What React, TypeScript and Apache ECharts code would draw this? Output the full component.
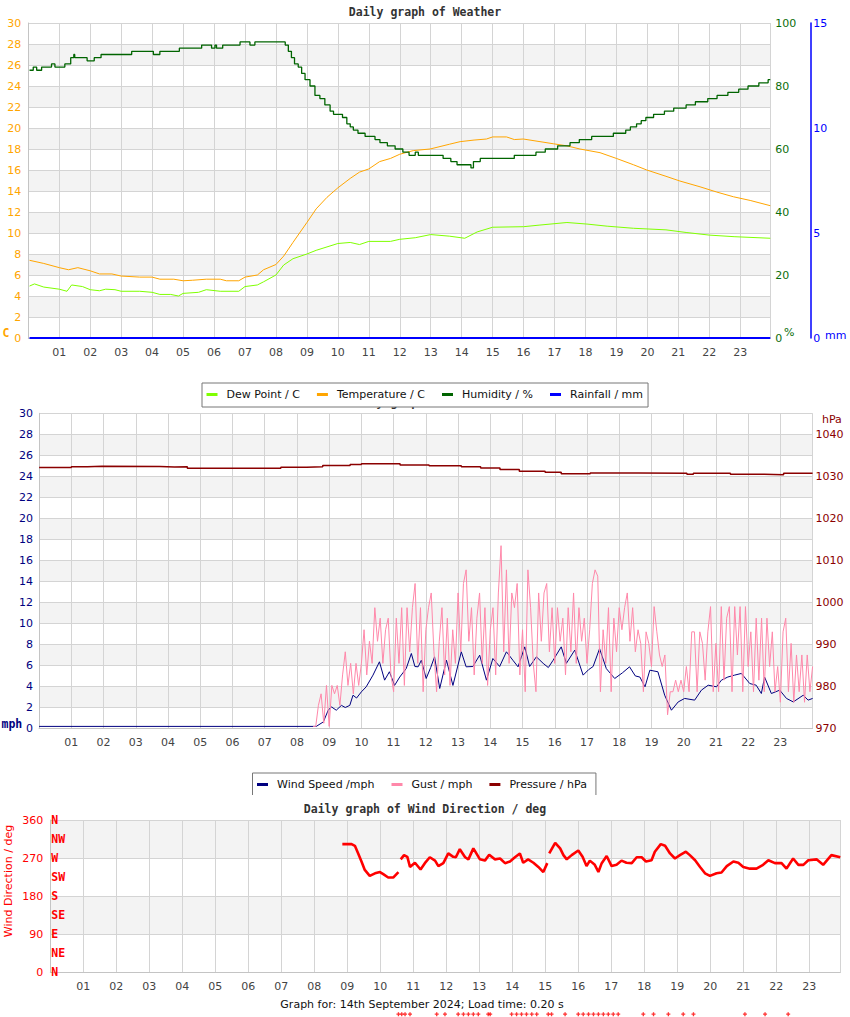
import React, { useEffect, useRef } from 'react';
import * as echarts from 'echarts';

const SANS = '"DejaVu Sans", Verdana, sans-serif';
const MONO = '"DejaVu Sans Mono", monospace';

const TITLES = ['Daily graph of Weather', 'Daily graph of Weather', 'Daily graph of Wind Direction / deg'];
const COMPASS_LABELS = ['N', 'NE', 'E', 'SE', 'S', 'SW', 'W', 'NW', 'N'];
const LEGEND_WEATHER = ['Dew Point / C', 'Temperature / C', 'Humidity / %', 'Rainfall / mm'];
const LEGEND_WIND = ['Wind Speed /mph', 'Gust / mph', 'Pressure / hPa'];
const FOOTER = 'Graph for: 14th September 2024; Load time: 0.20 s';

// [hour, °C]
const temperature: [number, number][] = [
  [0.04, 7.4], [0.5, 7.1], [1.0, 6.7], [1.3, 6.5], [1.6, 6.7], [2.0, 6.4], [2.3, 6.1], [2.7, 6.1], [3.0, 5.9],
  [3.6, 5.8], [4.0, 5.8], [4.25, 5.6], [4.7, 5.6], [5.0, 5.45], [5.3, 5.5], [5.75, 5.6], [6.2, 5.6], [6.4, 5.45],
  [6.8, 5.45], [7.0, 5.8], [7.4, 6.0], [7.6, 6.5], [8.0, 7.0], [8.25, 7.8], [8.55, 9.1], [9.0, 11.0], [9.3, 12.3],
  [9.65, 13.4], [10.0, 14.3], [10.4, 15.2], [10.7, 15.8], [11.0, 16.1], [11.35, 16.8], [11.7, 17.1], [12.0, 17.5],
  [12.44, 17.85], [12.98, 18.0], [13.6, 18.45], [13.95, 18.7], [14.4, 18.85], [14.8, 18.95], [15.0, 19.15],
  [15.45, 19.15], [15.7, 18.9], [15.99, 18.95], [16.53, 18.7], [16.96, 18.5], [17.4, 18.3], [17.82, 18.0],
  [18.47, 17.65], [19.0, 17.1], [19.55, 16.5], [19.98, 16.0], [20.6, 15.4], [21.05, 14.95], [21.7, 14.4],
  [22.24, 13.9], [22.78, 13.45], [23.32, 13.1], [23.97, 12.6],
];

// [hour, °C]
const dewPoint: [number, number][] = [
  [0.04, 4.95], [0.2, 5.15], [0.5, 4.85], [1.0, 4.65], [1.25, 4.45], [1.4, 5.05], [1.75, 4.9], [2.0, 4.6],
  [2.3, 4.5], [2.5, 4.65], [2.8, 4.6], [3.0, 4.45], [3.6, 4.45], [4.0, 4.35], [4.25, 4.15], [4.6, 4.15],
  [4.85, 4.0], [5.0, 4.25], [5.5, 4.35], [5.75, 4.6], [6.2, 4.45], [6.8, 4.45], [7.0, 4.9], [7.4, 5.05],
  [7.6, 5.35], [8.0, 6.0], [8.25, 6.95], [8.55, 7.55], [9.0, 8.0], [9.3, 8.35], [10.0, 9.0], [10.4, 9.1],
  [10.7, 8.9], [11.0, 9.2], [11.7, 9.2], [12.0, 9.4], [12.5, 9.55], [13.0, 9.85], [13.6, 9.7], [14.1, 9.5],
  [14.5, 10.1], [15.0, 10.55], [16.0, 10.6], [16.5, 10.75], [17.4, 11.0], [18.05, 10.85], [18.7, 10.65],
  [19.55, 10.45], [20.6, 10.3], [21.25, 10.05], [22.0, 9.8], [22.8, 9.65], [23.97, 9.5],
];

// [hour, %]
const humidity: [number, number][] = [
  [0.04, 85], [0.16, 86], [0.27, 85], [0.43, 86], [0.75, 87], [0.86, 86], [1.18, 87], [1.37, 89], [1.47, 90],
  [1.5, 89], [1.9, 88], [2.13, 89], [2.35, 90], [3.34, 91], [4.04, 90], [4.25, 91], [4.88, 92], [5.6, 93],
  [5.92, 92], [6.03, 93], [6.08, 92], [6.28, 93], [6.84, 94], [7.16, 93], [7.32, 94], [8.3, 93], [8.4, 91],
  [8.5, 89], [8.6, 87], [8.72, 86], [8.83, 84], [8.94, 82], [9.1, 80], [9.26, 77], [9.42, 76], [9.58, 74],
  [9.75, 72], [9.86, 71], [10.15, 70], [10.29, 68], [10.4, 67], [10.5, 66], [10.65, 65], [10.88, 64], [11.2, 63],
  [11.36, 62], [11.6, 61], [11.85, 60], [12.1, 59], [12.3, 58], [12.5, 59], [12.6, 58], [13.4, 57], [13.65, 56],
  [13.85, 55], [14.3, 54], [14.38, 56], [14.6, 57], [15.7, 58], [16.4, 59], [16.7, 60], [17.1, 61], [17.5, 62],
  [17.8, 63], [18.2, 64], [18.9, 65], [19.3, 66], [19.45, 67], [19.65, 68], [19.8, 69], [19.95, 70], [20.2, 71],
  [20.55, 72], [20.85, 73], [21.25, 74], [21.55, 75], [21.95, 76], [22.25, 77], [22.6, 78], [22.95, 79],
  [23.25, 80], [23.6, 81], [23.9, 82], [23.97, 82],
];

// [hour, mm]
const rainfall: [number, number][] = [[0.04, 0], [23.97, 0]];

// [hour, mph]
const windSpeed: [number, number][] = [
  [0, 0.2], [8.6, 0.2], [8.82, 0.63], [8.97, 1.74], [9.07, 2.06], [9.22, 1.74], [9.38, 2.2], [9.5, 2.0],
  [9.64, 2.2], [9.74, 3.17], [9.85, 2.9], [10.0, 3.49], [10.15, 3.97], [10.36, 5.08], [10.56, 6.35],
  [10.72, 4.6], [10.87, 5.4], [11.03, 4.1], [11.19, 4.9], [11.39, 5.7], [11.55, 7.14], [11.66, 5.9],
  [11.76, 5.87], [11.86, 6.5], [12.01, 4.76], [12.15, 5.8], [12.27, 6.82], [12.43, 3.81], [12.64, 6.5],
  [12.84, 4.1], [13.1, 7.3], [13.25, 5.87], [13.46, 5.9], [13.67, 6.98], [13.88, 4.6], [14.08, 6.66],
  [14.29, 5.9], [14.5, 7.3], [14.7, 6.5], [14.86, 5.87], [15.07, 7.77], [15.22, 5.9], [15.43, 6.82],
  [15.64, 6.2], [15.8, 5.8], [15.95, 6.5], [16.2, 7.77], [16.36, 6.2], [16.62, 7.46], [16.88, 5.08],
  [17.05, 5.6], [17.19, 5.9], [17.39, 7.6], [17.6, 5.7], [17.86, 4.76], [18.1, 5.3], [18.32, 5.87],
  [18.5, 5.0], [18.64, 4.9], [18.8, 3.97], [18.95, 5.55], [19.2, 5.4], [19.41, 3.17], [19.62, 1.74],
  [19.83, 2.53], [20.03, 2.86], [20.34, 2.7], [20.55, 3.65], [20.76, 4.12], [21.02, 3.97], [21.17, 4.6],
  [21.37, 4.9], [21.58, 5.08], [21.79, 5.24], [22.05, 4.28], [22.25, 4.12], [22.41, 3.33], [22.51, 4.9],
  [22.72, 3.33], [22.98, 3.65], [23.19, 2.86], [23.4, 2.53], [23.71, 3.17], [23.86, 2.7], [24.0, 2.86],
];

// gust readings every 5 minutes from 08:30
const gustStartHour = 8.5;
const gustStepMinutes = 5;
const gust: number[] = [
  0.2, 0.2, 2.2, 3.3, 0.5, 4.1,
  0.2, 4.1, 3.3, 4.1, 2.2, 5.1, 7.3, 4.1, 6.2, 3.3, 6.2, 4.1,
  6.2, 9.4, 5.1, 8.3, 6.2, 11.5, 8.3, 10.5, 6.2, 9.4, 10.5, 5.1,
  3.5, 10.5, 6.2, 11.5, 4.1, 11.5, 7.3, 11.5, 13.8, 6.2, 11.5, 3.5,
  9.4, 11.5, 12.9, 7.3, 3.5, 8.3, 11.5, 5.1, 10.5, 4.1, 9.4, 6.2,
  12.9, 7.3, 13.8, 15.1, 8.3, 11.5, 5.1, 10.5, 12.9, 6.2, 11.5, 4.1,
  9.4, 11.5, 5.1, 12.9, 17.4, 7.3, 15.1, 6.2, 12.9, 11.5, 13.8, 5.1,
  9.4, 3.5, 15.1, 11.5, 6.2, 3.5, 12.9, 8.3, 12.9, 13.8, 7.3, 11.5,
  6.2, 11.5, 8.3, 10.5, 5.1, 11.5, 7.3, 12.9, 6.2, 11.5, 8.3, 10.5,
  6.2, 9.4, 13.8, 15.1, 14.5, 3.5, 9.4, 6.2, 11.5, 3.5, 10.5, 7.3,
  11.5, 9.4, 11.5, 12.9, 8.3, 11.5, 7.3, 9.4, 8.1, 3.5, 9.2, 8.1,
  5.9, 11.6, 9.2, 7.0, 5.9, 7.0, 1.3, 3.5, 3.5, 4.6, 3.5, 4.6,
  3.5, 5.9, 3.5, 9.2, 9.2, 3.5, 9.2, 8.1, 4.6, 9.2, 11.6, 3.5,
  8.1, 3.5, 11.6, 4.6, 10.5, 11.6, 3.5, 11.6, 7.0, 11.6, 3.5, 11.6,
  5.9, 9.2, 3.5, 10.5, 4.6, 10.5, 3.5, 10.5, 5.9, 9.2, 3.5, 5.9,
  2.5, 9.2, 10.5, 3.5, 8.1, 2.5, 7.0, 3.5, 7.0, 2.5, 7.0, 3.5,
  5.9,
];

// [hour, hPa]
const pressure: [number, number][] = [
  [0, 1032.1], [1.0, 1032.3], [1.5, 1032.4], [1.95, 1032.35], [3.75, 1032.2], [4.2, 1032.3], [4.6, 1031.95],
  [7.5, 1032.15], [8.3, 1032.3], [8.8, 1032.55], [9.65, 1032.8], [10.0, 1033.0], [11.2, 1032.7], [12.1, 1032.5],
  [13.1, 1032.3], [13.7, 1032.0], [14.3, 1031.6], [14.9, 1031.2], [15.7, 1031.0], [16.2, 1030.6], [17.1, 1030.8],
  [18.6, 1030.75], [20.1, 1030.5], [20.3, 1030.75], [21.45, 1030.5], [22.5, 1030.35], [23.1, 1030.75], [24.0, 1030.75],
];

// [hour, deg]
const windDirection: [number, number | null][] = [
  [8.85, 303], [9.13, 303], [9.23, 299], [9.33, 281], [9.43, 262], [9.53, 242], [9.68, 228], [9.84, 234],
  [9.99, 237], [10.09, 232], [10.24, 224], [10.39, 224], [10.55, 237], [10.58, null], [10.62, 267], [10.72, 277],
  [10.82, 273], [10.9, 249], [11.05, 259], [11.22, 243], [11.35, 258], [11.5, 272], [11.66, 264], [11.76, 251],
  [11.91, 258], [12.06, 281], [12.21, 273], [12.29, 272], [12.41, 291], [12.57, 272], [12.67, 267], [12.82, 293],
  [13.02, 267], [13.17, 264], [13.3, 278], [13.47, 267], [13.63, 269], [13.78, 258], [13.93, 262], [14.08, 272],
  [14.23, 281], [14.33, 259], [14.48, 267], [14.64, 259], [14.79, 249], [14.94, 237], [15.06, 258], [15.09, null],
  [15.12, 281], [15.3, 306], [15.45, 293], [15.55, 277], [15.65, 267], [15.8, 277], [16.0, 288], [16.13, 273],
  [16.25, 251], [16.35, 264], [16.5, 254], [16.61, 237], [16.71, 258], [16.86, 275], [17.01, 251], [17.16, 254],
  [17.31, 264], [17.46, 259], [17.62, 258], [17.77, 272], [17.92, 272], [18.05, 262], [18.22, 265], [18.32, 285],
  [18.5, 303], [18.63, 299], [18.78, 281], [18.93, 269], [19.08, 277], [19.26, 285], [19.38, 277], [19.54, 265],
  [19.69, 249], [19.84, 234], [19.99, 228], [20.19, 234], [20.34, 236], [20.5, 251], [20.7, 262], [20.85, 259],
  [21.0, 249], [21.2, 245], [21.4, 245], [21.6, 254], [21.76, 265], [21.96, 258], [22.16, 258], [22.31, 245],
  [22.51, 269], [22.67, 254], [22.82, 254], [22.97, 265], [23.22, 267], [23.42, 254], [23.67, 277], [23.94, 272],
];

// readings drawn below the direction scale
const offScaleDirection: [number, number][] = [
  [10.55, -99], [10.65, -99], [10.75, -99], [10.9, -99], [11.71, -99], [11.96, -99], [12.36, -99], [12.52, -99],
  [12.67, -99], [12.82, -99], [12.97, -99], [13.27, -99], [13.33, -99], [13.98, -99], [14.13, -99], [14.28, -99],
  [14.43, -99], [14.59, -99], [14.74, -99], [15.09, -99], [15.19, -99], [15.6, -99], [16.0, -99], [16.15, -99],
  [16.31, -99], [16.46, -99], [16.61, -99], [16.76, -99], [16.91, -99], [17.06, -99], [17.21, -99], [17.97, -99],
  [18.28, -99], [18.73, -99], [19.18, -99], [19.49, -99], [21.05, -99], [21.66, -99], [22.36, -99],
];

const GRID_LINE = '#d4d4d4';
const BANDS = ['#ffffff', '#f3f3f3'];
const AXIS_LINE = '#c4c4c4';

const hourLabel = (v: number) =>
  Number.isInteger(v) && v > 0 && v < 24 ? String(v).padStart(2, '0') : '';
const hpaLabel = (v: number) => (v % 10 === 0 && v <= 1040 ? String(v) : '');

function xAxis(gridIndex: number, max: number, margin: number) {
  return {
    type: 'value', gridIndex, min: 0, max, interval: 1,
    axisLine: { show: true, onZero: false, lineStyle: { color: AXIS_LINE } },
    axisTick: { show: false },
    axisLabel: { formatter: hourLabel, color: '#444', fontSize: 11, fontFamily: SANS, margin },
    splitLine: { show: true, lineStyle: { color: GRID_LINE } },
  };
}

function txt(text: string, x: number, y: number, fill: string, font: string, align = 'left', extra: any = {}) {
  return {
    type: 'text', x, y, z: 50, ...extra,
    style: { text, fill, font, textAlign: align, textVerticalAlign: 'middle', align, verticalAlign: 'middle' },
  };
}

function buildOption(): any {
  const titleStyle = { fontFamily: MONO, fontWeight: 'bold', fontSize: 11.5, color: '#333' };
  const legendBase = {
    orient: 'horizontal', itemGap: 17, itemWidth: 11, itemHeight: 3, icon: 'rect',
    borderColor: '#777', borderWidth: 1, backgroundColor: '#fff', selectedMode: false, z: 20,
    textStyle: { fontSize: 11, fontFamily: SANS, color: '#111', padding: [0, 0, 0, 4] },
  };
  const gustData = gust.map((v, i) => [gustStartHour + (i * gustStepMinutes) / 60, v]);
  return {
    animation: false,
    backgroundColor: '#fff',
    title: [
      { text: TITLES[0], left: 'center', top: 6, padding: 0, textStyle: titleStyle, z: 1 },
      { text: TITLES[1], left: 'center', top: 396, padding: 0, textStyle: titleStyle, z: 1 },
      { text: TITLES[2], left: 'center', top: 803, padding: 0, textStyle: titleStyle, z: 1 },
    ],
    legend: [
      { ...legendBase, data: LEGEND_WEATHER, left: 202, top: 383, padding: [6, 5, 7, 4.5] },
      { ...legendBase, data: LEGEND_WIND, left: 252.5, top: 773, padding: [6, 9, 7, 4.5] },
    ],
    grid: [
      { left: 28.3, top: 23, width: 742, height: 315, outerBoundsMode: 'none' },
      { left: 39.1, top: 413.3, width: 773.5, height: 315.2, outerBoundsMode: 'none' },
      { left: 50.3, top: 820, width: 790, height: 152.3, outerBoundsMode: 'none' },
    ],
    xAxis: [xAxis(0, 23.97, 9), xAxis(1, 24, 8), xAxis(2, 23.94, 8.5)],
    yAxis: [
      {
        type: 'value', gridIndex: 0, position: 'left', min: 0, max: 30, interval: 2,
        axisLine: { show: true, lineStyle: { color: AXIS_LINE } }, axisTick: { show: false },
        axisLabel: { color: '#FFA500', fontSize: 11, fontFamily: SANS, margin: 7 },
        splitLine: { show: true, lineStyle: { color: GRID_LINE } },
        splitArea: { show: true, areaStyle: { color: BANDS } },
      },
      {
        type: 'value', gridIndex: 0, position: 'right', min: 0, max: 100, interval: 20,
        axisLine: { show: false }, axisTick: { show: false },
        axisLabel: { color: '#0b6e0b', fontSize: 11, fontFamily: SANS, margin: 5 },
        splitLine: { show: false },
      },
      {
        type: 'value', gridIndex: 0, position: 'right', offset: 40, min: 0, max: 15, interval: 5,
        axisLine: { show: true, lineStyle: { color: '#0000ff', width: 1.5 } }, axisTick: { show: false },
        axisLabel: { color: '#0000ff', fontSize: 11, fontFamily: SANS, margin: 3 },
        splitLine: { show: false },
      },
      {
        type: 'value', gridIndex: 1, position: 'left', min: 0, max: 30, interval: 2,
        axisLine: { show: true, lineStyle: { color: AXIS_LINE } }, axisTick: { show: false },
        axisLabel: { color: '#000080', fontSize: 11, fontFamily: SANS, margin: 6 },
        splitLine: { show: true, lineStyle: { color: GRID_LINE } },
        splitArea: { show: true, areaStyle: { color: BANDS } },
      },
      {
        type: 'value', gridIndex: 1, position: 'right', min: 970, max: 1045, interval: 10,
        axisLine: { show: false }, axisTick: { show: false },
        axisLabel: { color: '#8B0000', fontSize: 11, fontFamily: SANS, margin: 3, formatter: hpaLabel },
        splitLine: { show: false },
      },
      {
        type: 'value', gridIndex: 2, position: 'left', min: 0, max: 360, interval: 90,
        axisLine: { show: true, lineStyle: { color: AXIS_LINE } }, axisTick: { show: false },
        axisLabel: { color: '#ff0000', fontSize: 11, fontFamily: SANS, margin: 7 },
        splitLine: { show: true, lineStyle: { color: GRID_LINE } },
        splitArea: { show: true, areaStyle: { color: BANDS } },
      },
      {
        type: 'value', gridIndex: 2, position: 'left', min: 0, max: 360, interval: 45,
        axisLine: { show: false }, axisTick: { show: false }, splitLine: { show: false },
        axisLabel: {
          inside: true, margin: 1, color: '#ff0000', fontSize: 11.5, fontFamily: MONO, fontWeight: 'bold',
          formatter: (v: number) => COMPASS_LABELS[Math.round(v / 45)] ?? '',
        },
      },
    ],
    series: [
      { name: LEGEND_WEATHER[0], type: 'line', xAxisIndex: 0, yAxisIndex: 0, data: dewPoint, showSymbol: false, color: '#7FFF00', lineStyle: { width: 1 } },
      { name: LEGEND_WEATHER[1], type: 'line', xAxisIndex: 0, yAxisIndex: 0, data: temperature, showSymbol: false, color: '#FFA500', lineStyle: { width: 1 } },
      { name: LEGEND_WEATHER[2], type: 'line', xAxisIndex: 0, yAxisIndex: 1, data: humidity, step: 'end', showSymbol: false, color: '#006400', lineStyle: { width: 1.3 } },
      { name: LEGEND_WEATHER[3], type: 'line', xAxisIndex: 0, yAxisIndex: 2, data: rainfall, showSymbol: false, color: '#0000ff', lineStyle: { width: 2 } },
      { name: LEGEND_WIND[0], type: 'line', xAxisIndex: 1, yAxisIndex: 3, data: windSpeed, showSymbol: false, color: '#000080', lineStyle: { width: 1 } },
      { name: LEGEND_WIND[1], type: 'line', xAxisIndex: 1, yAxisIndex: 3, data: gustData, showSymbol: false, color: '#ff88aa', lineStyle: { width: 1 } },
      { name: LEGEND_WIND[2], type: 'line', xAxisIndex: 1, yAxisIndex: 4, data: pressure, step: 'end', showSymbol: false, color: '#8B0000', lineStyle: { width: 1.5 } },
      { name: 'Wind Direction', type: 'line', xAxisIndex: 2, yAxisIndex: 5, data: windDirection, showSymbol: false, connectNulls: false, color: '#ff0000', lineStyle: { width: 2.6 } },
      {
        name: 'Wind Direction (off scale)', type: 'scatter', xAxisIndex: 2, yAxisIndex: 5, data: offScaleDirection,
        clip: false, symbol: 'path://M1,0H2V1H3V2H2V3H1V2H0V1H1Z', symbolSize: 4, color: '#ff0000',
      },
    ],
    graphic: [
      txt('C', 2.5, 333, '#FFA500', `bold 11.5px ${MONO}`),
      txt('%', 784, 332, '#0b6e0b', `11px ${SANS}`),
      txt('mm', 825, 335, '#0000ff', `11px ${SANS}`),
      txt('mph', 1.5, 723.5, '#000080', `bold 11.5px ${MONO}`),
      txt('hPa', 822, 419, '#8B0000', `11px ${SANS}`),
      txt('Wind Direction / deg', 8, 881, '#ff0000', `11px ${SANS}`, 'center', { rotation: Math.PI / 2 }),
      txt(FOOTER, 422, 1004.5, '#111', `11px ${SANS}`, 'center'),
      { type: 'rect', z: 60, shape: { x: 250, y: 795, width: 360, height: 3 }, style: { fill: '#fff' } },
    ],
  };
}

export default function App() {
  const ref = useRef<HTMLDivElement>(null);
  useEffect(() => {
    const chart = echarts.init(ref.current!, undefined, { renderer: 'svg' });
    chart.setOption(buildOption());
    return () => chart.dispose();
  }, []);
  return (
    <div
      ref={ref}
      style={{ position: 'absolute', left: 0, top: 0, width: 850, height: 1017, background: '#fff' }}
    />
  );
}
